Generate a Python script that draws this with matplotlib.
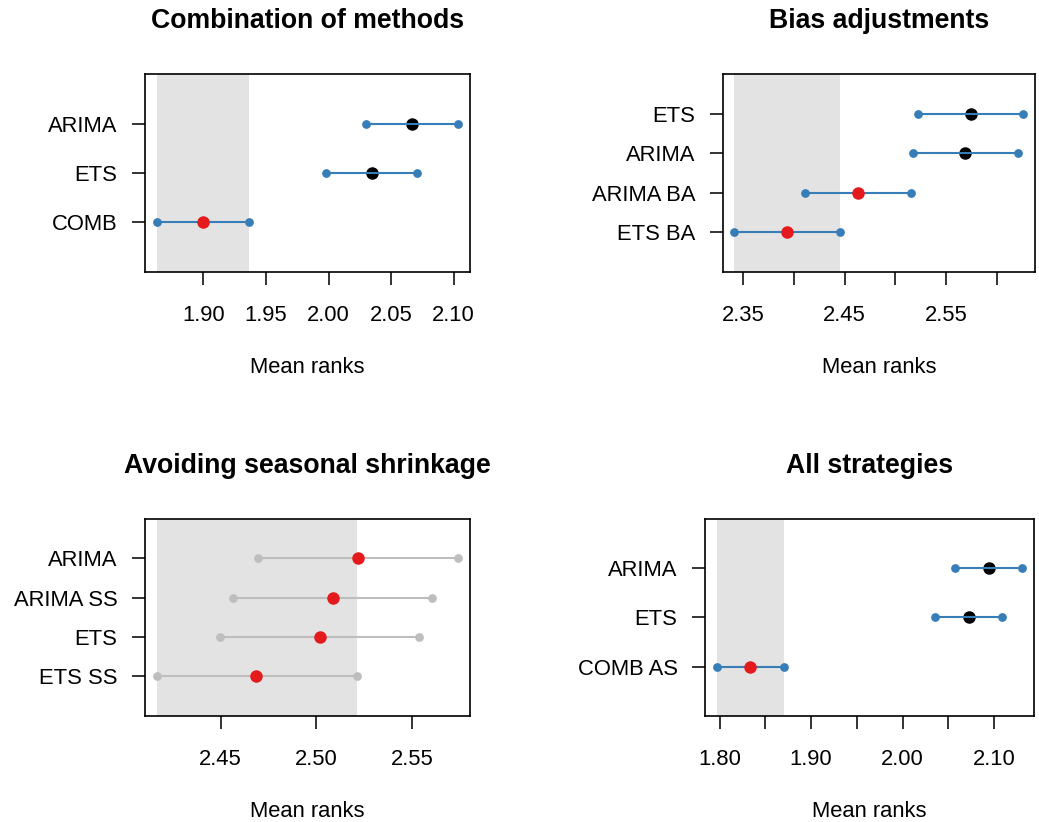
import matplotlib
matplotlib.use('Agg')
import matplotlib.pyplot as plt
import numpy as np

# -----------------------Results (mean ranks with critical-distance intervals)-----------------------
comb_labels = ['COMB', 'ETS', 'ARIMA']
comb_mean = [1.900, 2.0345, 2.0664]
comb_lo = [1.8628, 1.9976, 2.0297]
comb_hi = [1.9362, 2.0708, 2.1034]

bias_labels = ['ETS BA', 'ARIMA BA', 'ARIMA', 'ETS']
bias_mean = [2.3933, 2.4635, 2.5688, 2.5740]
bias_lo = [2.3415, 2.4113, 2.5170, 2.5220]
bias_hi = [2.4458, 2.5150, 2.6210, 2.6260]

ss_labels = ['ETS SS', 'ETS', 'ARIMA SS', 'ARIMA']
ss_mean = [2.4685, 2.5019, 2.5087, 2.5220]
ss_lo = [2.4167, 2.4495, 2.4566, 2.4695]
ss_hi = [2.5212, 2.5539, 2.5607, 2.5740]

all_labels = ['COMB AS', 'ETS', 'ARIMA']
all_mean = [1.8335, 2.0721, 2.0940]
all_lo = [1.7971, 2.0350, 2.0568]
all_hi = [1.8706, 2.1086, 2.1305]

# -----------------------Fig configuration-----------------------
plt.rcParams['font.family'] = ['Liberation Sans', 'DejaVu Sans']
tick_size = 15.8
title_size = 19.2
blue = '#377EB8'
red = '#E41A1C'
black = '#000000'
grey = '#BEBEBE'
shade = '#E3E3E3'

fig = plt.figure(figsize=(10.39, 8.22), dpi=100)
W, H = 1039, 822


def add_ax(left, right, top, bottom):
    return fig.add_axes([left / W, 1 - bottom / H, (right - left) / W, (bottom - top) / H])


def panel(ax, title, labels, mean, lo, hi, mean_colors, bar_color, ticks, ticklabels):
    n = len(labels)
    y = np.arange(1, n + 1)
    best = int(np.argmin(mean))
    ax.axvspan(lo[best], hi[best], color=shade, lw=0, zorder=0)
    for i in range(n):
        ax.plot([lo[i], hi[i]], [y[i], y[i]], color=bar_color, lw=1.5, zorder=2,
                marker='o', markersize=6.3, markeredgewidth=0, solid_capstyle='butt')
        # black points sit under the interval line, red ones on top
        z = 3 if mean_colors[i] == red else 1.5
        ax.plot(mean[i], y[i], 'o', color=mean_colors[i], markersize=9, markeredgewidth=0, zorder=z)
    span = max(hi) - min(lo)
    ax.set_xlim(min(lo) - 0.04 * span, max(hi) + 0.04 * span)
    ax.set_ylim(0, n + 1)
    ax.set_yticks(y)
    ax.set_yticklabels(labels, fontsize=tick_size)
    ax.set_xticks(ticks)
    ax.set_xticklabels(ticklabels, fontsize=tick_size)
    ax.tick_params(axis='both', direction='out', length=9.5, width=1.2, color='#111111')
    ax.tick_params(axis='x', pad=14.5)
    ax.tick_params(axis='y', pad=10)
    for s in ax.spines.values():
        s.set_linewidth(1.2)
    ax.set_title(title, fontsize=title_size, fontweight='bold', pad=33)
    ax.set_xlabel('Mean ranks', fontsize=tick_size, labelpad=22.5)


ax1 = add_ax(144.7, 470, 74.3, 271.7)
panel(ax1, 'Combination of methods', comb_labels, comb_mean, comb_lo, comb_hi,
      [red, black, black], blue,
      [1.90, 1.95, 2.00, 2.05, 2.10], ['1.90', '1.95', '2.00', '2.05', '2.10'])

ax2 = add_ax(722.7, 1035, 74.3, 271.7)
panel(ax2, 'Bias adjustments', bias_labels, bias_mean, bias_lo, bias_hi,
      [red, red, black, black], blue,
      [2.35, 2.40, 2.45, 2.50, 2.55, 2.60], ['2.35', '', '2.45', '', '2.55', ''])

ax3 = add_ax(144.7, 470, 519, 715.7)
panel(ax3, 'Avoiding seasonal shrinkage', ss_labels, ss_mean, ss_lo, ss_hi,
      [red, red, red, red], grey,
      [2.45, 2.50, 2.55], ['2.45', '2.50', '2.55'])

ax4 = add_ax(704.7, 1034.3, 519, 715.7)
panel(ax4, 'All strategies', all_labels, all_mean, all_lo, all_hi,
      [red, black, black], blue,
      [1.80, 1.85, 1.90, 1.95, 2.00, 2.05, 2.10], ['1.80', '', '1.90', '', '2.00', '', '2.10'])

plt.savefig('out.png', dpi=100)
